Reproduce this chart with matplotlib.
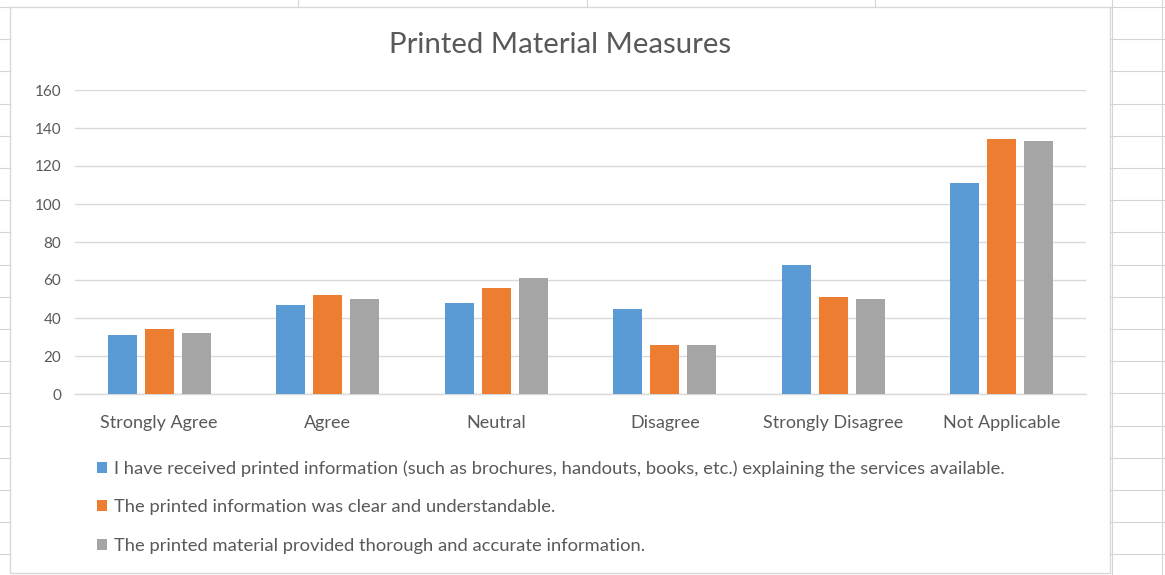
import matplotlib.pyplot as plt
import matplotlib.patches as patches
from matplotlib.lines import Line2D
import numpy as np

# data
categories = ["Strongly Agree", "Agree", "Neutral", "Disagree", "Strongly Disagree", "Not Applicable"]
received = [31, 47, 48, 45, 68, 111]
clear = [34, 52, 56, 26, 51, 134]
thorough = [32, 50, 61, 26, 50, 133]
series_names = [
    "I have received printed information (such as brochures, handouts, books, etc.) explaining the services available.",
    "The printed information was clear and understandable.",
    "The printed material provided thorough and accurate information.",
]
colors = ["#5B9BD5", "#ED7D31", "#A5A5A5"]

W, H = 1165, 575
plt.rcParams["font.family"] = ["Lato", "DejaVu Sans"]
fig = plt.figure(figsize=(W / 100, H / 100), dpi=100)
fig.patch.set_facecolor("white")

# spreadsheet cell lines behind the chart
cell = "#D4D4D4"
for y in np.arange(7, H, 32.2):
    fig.add_artist(Line2D([0, 10 / W], [1 - y / H] * 2, color=cell, lw=0.8, transform=fig.transFigure))
    fig.add_artist(Line2D([1110 / W, 1], [1 - y / H] * 2, color=cell, lw=0.8, transform=fig.transFigure))
for x in [298, 587, 875]:
    fig.add_artist(Line2D([x / W] * 2, [1, 1 - 7 / H], color=cell, lw=0.8, transform=fig.transFigure))
for x in [1112, 1162]:
    fig.add_artist(Line2D([x / W] * 2, [0, 1], color=cell, lw=0.8, transform=fig.transFigure))

# chart box
fig.add_artist(patches.Rectangle((10 / W, 1 - 573 / H), 1100 / W, 566 / H, transform=fig.transFigure,
                                 facecolor="white", edgecolor="#D9D9D9", lw=1.0, zorder=-1))

ax = fig.add_axes([75 / W, 1 - 394 / H, 1011 / W, 304 / H])
ax.set_zorder(2)
ax.set_facecolor("none")
x = np.arange(len(categories))
width = 0.17
step = 0.22
for i, (vals, name) in enumerate(zip([received, clear, thorough], series_names)):
    ax.bar(x + (i - 1) * step, vals, width, color=colors[i], label=name, zorder=3)

ax.set_xlim(-0.5, len(categories) - 0.5)
ax.set_ylim(0, 160)
ax.set_yticks(range(0, 161, 20))
ax.set_xticks(x)
ax.set_xticklabels(categories)
ax.yaxis.grid(True, color="#D9D9D9", lw=1.0, zorder=0)
ax.set_axisbelow(True)
for s in ["top", "right", "left"]:
    ax.spines[s].set_visible(False)
ax.spines["bottom"].set_color("#D9D9D9")
ax.spines["bottom"].set_linewidth(1.0)
ax.tick_params(axis="both", length=0, colors="#595959")
ax.tick_params(axis="x", pad=15, labelsize=13)
ax.tick_params(axis="y", pad=10, labelsize=11)

fig.text(560 / W, 1 - 45 / H, "Printed Material Measures", ha="center", va="center",
         fontsize=21.2, color="#595959")

ax.legend(loc="upper left", bbox_to_anchor=(90 / W, 1 - 453 / H), bbox_transform=fig.transFigure,
          frameon=False, fontsize=13.2, labelcolor="#595959", handlelength=0.55, handleheight=0.55,
          handletextpad=0.35, labelspacing=1.22, borderaxespad=0)

fig.savefig("out.png", dpi=100, facecolor="white")
